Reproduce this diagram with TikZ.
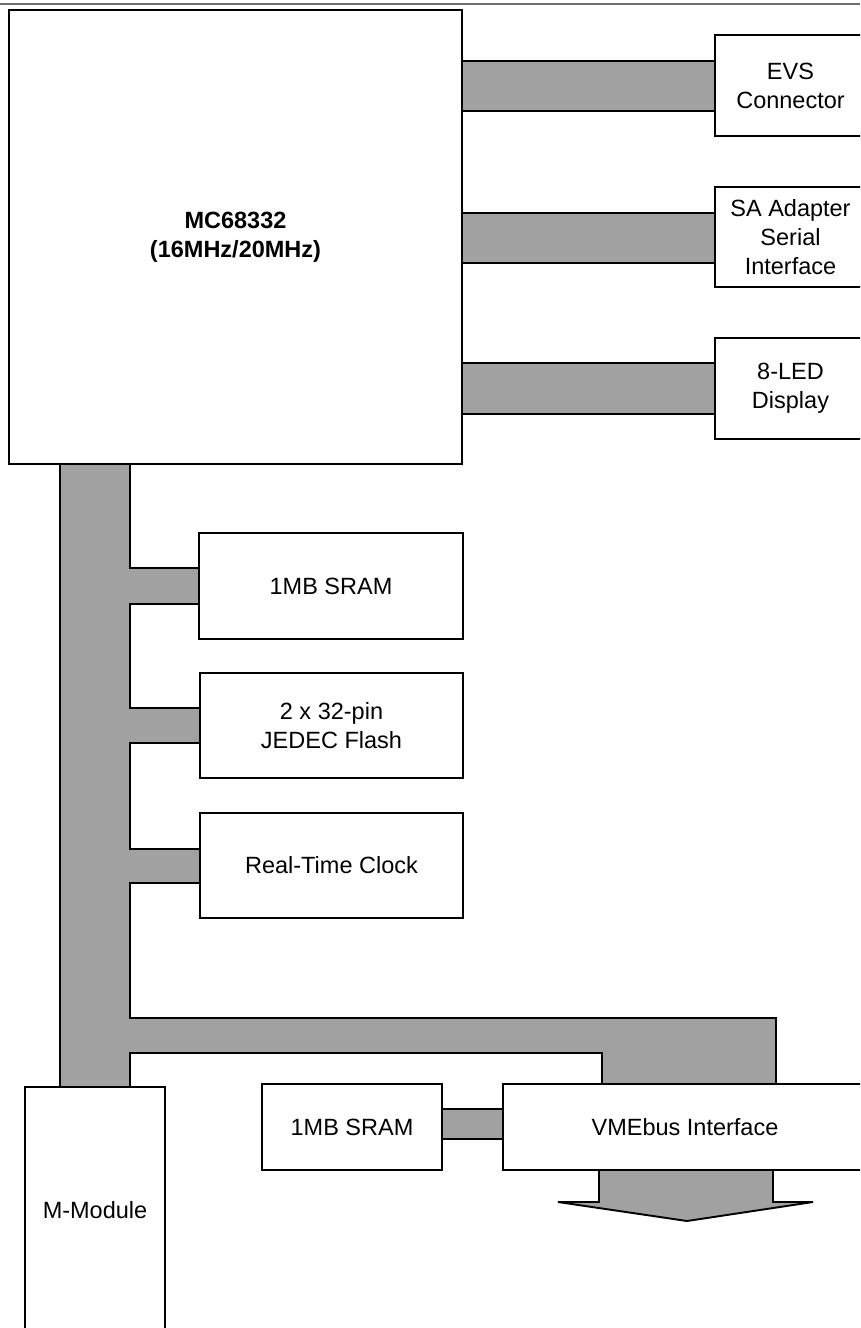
\documentclass[tikz,border=0pt]{standalone}
\usepackage{fontspec}
\setmainfont{Liberation Sans}
\definecolor{busgray}{RGB}{161,161,161}
\definecolor{rulegray}{RGB}{110,110,110}
\pgfdeclarelayer{bg}
\pgfsetlayers{bg,main}
\begin{document}
\begin{tikzpicture}[x=1pt,y=-1pt,
  box/.style={draw=black, line width=1.9pt, fill=white, inner sep=0pt, outer sep=0pt,
    align=center, anchor=north west, font=\fontsize{23.5}{29}\selectfont},
  bus/.style={draw=black, line width=1.9pt, fill=busgray, line join=miter}]
\clip (0,0) rectangle (860,1328);

% boxes
\node[box, minimum width=453, minimum height=454,
  font=\bfseries\fontsize{23.5}{29}\selectfont] (mc) at (9,10) {MC68332\\(16MHz/20MHz)};
\node[box, minimum width=151, minimum height=101] (evs) at (715,35) {EVS\\Connector};
\node[box, minimum width=151, minimum height=100] (sa) at (715,187) {SA Adapter\\Serial\\Interface};
\node[box, minimum width=151, minimum height=101] (led) at (715,338) {8-LED\\Display};
\node[box, minimum width=264, minimum height=106] (sram) at (199,533) {1MB SRAM};
\node[box, minimum width=263, minimum height=105] (flash) at (200,673) {2 x 32-pin\\JEDEC Flash};
\node[box, minimum width=263, minimum height=105] (rtc) at (200,813) {Real-Time Clock};
\node[box, minimum width=140, minimum height=246] (mmod) at (25,1087) {M-Module};
\node[box, minimum width=180, minimum height=86] (sramb) at (262,1084) {1MB SRAM};
\node[box, minimum width=364, minimum height=86] (vme) at (503,1084) {VMEbus Interface};

\begin{pgfonlayer}{bg}
\fill[white] (0,0) rectangle (860,1328);
\draw[rulegray, line width=1.5pt] (0,4) -- (860,4);
% buses to right-hand boxes
\draw[bus] (mc.east |- 0,61) rectangle (evs.west |- 0,111);
\draw[bus] (mc.east |- 0,213) rectangle (sa.west |- 0,263);
\draw[bus] (mc.east |- 0,363) rectangle (led.west |- 0,414);
% main vertical bus with branches
\draw[bus] (60,0 |- mc.south) -- (130,0 |- mc.south)
  -- (130,568) -- (sram.west |- 0,568) -- (sram.west |- 0,604) -- (130,604)
  -- (130,708) -- (flash.west |- 0,708) -- (flash.west |- 0,743) -- (130,743)
  -- (130,849) -- (rtc.west |- 0,849) -- (rtc.west |- 0,883) -- (130,883)
  -- (130,1018) -- (776,1018) -- (776,0 |- vme.north) -- (602,0 |- vme.north)
  -- (602,1053) -- (130,1053) -- (130,0 |- mmod.north) -- (60,0 |- mmod.north) -- cycle;
% SRAM to VME link
\draw[bus] (sramb.east |- 0,1109) rectangle (vme.west |- 0,1139);
% VMEbus arrow
\draw[bus] (599,0 |- vme.south) -- (599,1202) -- (558,1202) -- (687,1221)
  -- (813,1202) -- (773,1202) -- (773,0 |- vme.south) -- cycle;
\end{pgfonlayer}
\end{tikzpicture}
\end{document}
